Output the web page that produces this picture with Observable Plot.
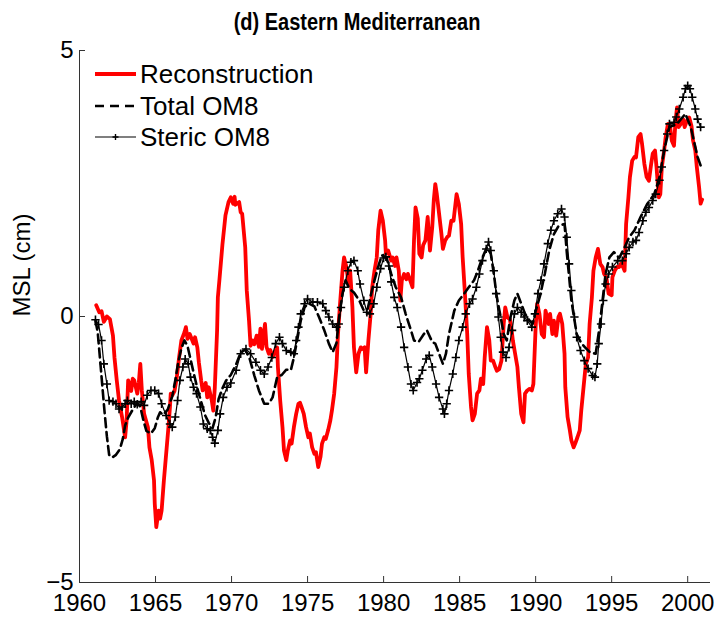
<!DOCTYPE html>
<html><head><meta charset="utf-8">
<script src="https://cdn.jsdelivr.net/npm/d3@7"></script>
<script src="https://cdn.jsdelivr.net/npm/@observablehq/plot@0.6"></script>
<style>body{margin:0;background:#fff}</style>
</head><body><div id="chart"></div>
<script>
const title = "(d) Eastern Mediterranean";
const yLabel = "MSL (cm)";
const seriesNames = ["Reconstruction", "Total OM8", "Steric OM8"];
const seriesColors = ["#ff0000", "#000000", "#000000"];
const xTicks = [1960, 1965, 1970, 1975, 1980, 1985, 1990, 1995, 2000];
const yTicks = [-5, 0, 5];
const xDomain = [1960, 2001.5];
const yDomain = [-5, 5];

const reconstruction = [
[1961.1,0.21],[1961.3,0.08],[1961.45,0.1],[1961.6,-0.1],[1961.8,0.0],[1962.0,-0.05],[1962.2,-0.36],[1962.3,-0.77],[1962.45,-1.2],[1962.6,-1.58],[1962.8,-1.89],[1963.0,-2.27],[1963.1,-1.95],[1963.2,-1.2],[1963.4,-1.4],[1963.5,-1.17],[1963.6,-1.2],[1963.8,-1.45],[1963.9,-1.25],[1964.0,-0.89],[1964.1,-1.39],[1964.25,-1.83],[1964.5,-2.08],[1964.6,-2.46],[1964.75,-2.7],[1964.9,-3.08],[1964.95,-3.52],[1965.05,-3.96],[1965.2,-3.65],[1965.3,-3.8],[1965.4,-3.65],[1965.55,-3.08],[1965.7,-2.58],[1965.85,-2.08],[1965.95,-1.7],[1966.0,-1.45],[1966.1,-1.48],[1966.25,-1.4],[1966.4,-1.14],[1966.55,-0.77],[1966.7,-0.45],[1966.9,-0.3],[1967.0,-0.2],[1967.1,-0.42],[1967.25,-0.33],[1967.5,-0.51],[1967.6,-0.39],[1967.75,-0.58],[1967.85,-0.86],[1968.0,-1.2],[1968.1,-1.39],[1968.3,-1.25],[1968.4,-1.52],[1968.5,-1.33],[1968.7,-1.58],[1968.8,-1.77],[1968.9,-1.33],[1969.05,-0.26],[1969.1,0.36],[1969.2,0.68],[1969.4,1.35],[1969.6,1.9],[1969.8,2.15],[1969.95,2.24],[1970.1,2.12],[1970.2,2.25],[1970.25,2.1],[1970.5,2.15],[1970.6,1.96],[1970.7,1.93],[1970.9,1.3],[1971.0,0.49],[1971.15,-0.08],[1971.25,-0.55],[1971.4,-0.45],[1971.5,-0.52],[1971.65,-0.36],[1971.8,-0.57],[1971.9,-0.23],[1972.0,-0.61],[1972.2,-0.14],[1972.3,-0.57],[1972.45,-0.7],[1972.55,-0.63],[1972.7,-0.76],[1972.8,-0.7],[1973.0,-0.58],[1973.05,-0.95],[1973.2,-1.58],[1973.35,-2.08],[1973.45,-2.52],[1973.6,-2.7],[1973.7,-2.52],[1973.85,-2.33],[1973.95,-2.39],[1974.1,-2.08],[1974.25,-1.83],[1974.4,-1.64],[1974.5,-1.62],[1974.6,-1.7],[1974.75,-1.83],[1974.9,-2.08],[1975.05,-2.27],[1975.15,-2.2],[1975.3,-2.46],[1975.45,-2.58],[1975.55,-2.55],[1975.7,-2.83],[1975.85,-2.64],[1975.95,-2.39],[1976.1,-2.27],[1976.2,-2.3],[1976.35,-2.14],[1976.5,-1.95],[1976.6,-1.77],[1976.75,-1.45],[1976.9,-0.95],[1977.0,-0.33],[1977.15,0.3],[1977.3,0.86],[1977.4,1.11],[1977.55,0.93],[1977.7,0.61],[1977.8,0.86],[1977.95,0.17],[1978.05,-0.58],[1978.2,-1.05],[1978.35,-0.7],[1978.5,-0.58],[1978.6,-0.61],[1978.75,-0.58],[1978.85,-1.05],[1979.0,-0.45],[1979.15,0.05],[1979.25,0.55],[1979.4,0.86],[1979.55,1.11],[1979.65,1.62],[1979.8,1.99],[1979.95,1.8],[1980.1,1.43],[1980.15,1.18],[1980.3,1.24],[1980.5,1.05],[1980.6,1.11],[1980.75,0.95],[1980.85,1.11],[1981.0,0.86],[1981.1,0.3],[1981.2,0.68],[1981.35,0.8],[1981.5,0.7],[1981.6,0.8],[1981.75,0.68],[1981.9,0.55],[1982.0,1.43],[1982.1,2.05],[1982.25,1.84],[1982.35,1.18],[1982.5,1.11],[1982.6,1.34],[1982.75,1.43],[1982.9,1.87],[1983.05,1.24],[1983.2,1.68],[1983.3,2.18],[1983.4,2.49],[1983.5,2.3],[1983.65,1.93],[1983.8,1.56],[1983.9,1.27],[1984.05,1.43],[1984.2,1.5],[1984.3,1.52],[1984.45,1.8],[1984.6,1.8],[1984.7,2.05],[1984.8,2.3],[1984.95,2.11],[1985.1,1.74],[1985.2,1.11],[1985.35,0.43],[1985.5,-0.33],[1985.6,-1.08],[1985.75,-1.7],[1985.85,-1.95],[1986.0,-1.83],[1986.15,-1.45],[1986.3,-1.39],[1986.4,-1.17],[1986.55,-1.27],[1986.65,-0.77],[1986.8,-0.2],[1986.95,-0.45],[1987.05,-0.83],[1987.2,-0.83],[1987.35,-0.95],[1987.45,-1.02],[1987.6,-0.99],[1987.75,-0.83],[1987.9,-0.14],[1988.0,0.17],[1988.15,-0.02],[1988.3,-0.05],[1988.4,-0.2],[1988.5,-0.45],[1988.65,-0.7],[1988.8,-0.95],[1988.9,-1.33],[1989.05,-1.83],[1989.2,-1.99],[1989.3,-1.45],[1989.45,-1.39],[1989.6,-1.36],[1989.75,-1.39],[1989.85,-1.27],[1990.0,-0.2],[1990.1,0.24],[1990.25,0.05],[1990.4,-0.33],[1990.55,-0.39],[1990.65,0.11],[1990.85,-0.14],[1990.95,0.05],[1991.1,-0.33],[1991.2,-0.08],[1991.35,-0.36],[1991.5,-0.01],[1991.6,0.05],[1991.75,-0.14],[1991.9,-0.7],[1991.95,-1.33],[1992.1,-1.89],[1992.25,-2.14],[1992.35,-2.33],[1992.5,-2.46],[1992.6,-2.39],[1992.75,-2.27],[1992.9,-2.14],[1993.0,-1.77],[1993.15,-1.33],[1993.3,-0.89],[1993.45,-0.77],[1993.55,-0.14],[1993.7,0.36],[1993.8,0.86],[1993.95,1.11],[1994.1,1.27],[1994.25,0.99],[1994.4,0.93],[1994.5,0.8],[1994.65,0.74],[1994.8,0.43],[1995.0,0.4],[1995.05,0.74],[1995.2,0.86],[1995.35,0.93],[1995.5,0.93],[1995.6,0.99],[1995.75,0.93],[1995.85,0.86],[1995.95,1.74],[1996.1,2.24],[1996.2,2.62],[1996.35,2.93],[1996.5,3.0],[1996.6,2.99],[1996.75,3.37],[1996.9,3.43],[1997.0,3.24],[1997.15,2.87],[1997.3,2.62],[1997.45,2.55],[1997.6,2.87],[1997.7,3.06],[1997.85,3.12],[1997.95,2.81],[1998.1,2.24],[1998.2,2.3],[1998.3,2.81],[1998.45,3.12],[1998.55,3.37],[1998.7,3.62],[1998.85,3.56],[1998.95,3.31],[1999.1,3.21],[1999.2,3.68],[1999.3,3.93],[1999.4,3.56],[1999.55,3.62],[1999.7,3.71],[1999.8,3.56],[1999.95,3.68],[2000.1,3.74],[2000.25,3.58],[2000.35,3.31],[2000.5,3.12],[2000.6,2.81],[2000.75,2.43],[2000.85,2.12],[2000.95,2.2]
];

const totalOM8 = [
[1961.05,-0.08],[1961.2,-0.3],[1961.35,-0.8],[1961.5,-1.3],[1961.65,-1.8],[1961.8,-2.25],[1961.95,-2.6],[1962.15,-2.65],[1962.4,-2.6],[1962.65,-2.5],[1962.85,-2.3],[1963.0,-2.05],[1963.2,-1.9],[1963.5,-1.75],[1963.8,-1.62],[1964.0,-1.7],[1964.2,-1.95],[1964.4,-2.15],[1964.7,-2.2],[1964.95,-2.1],[1965.15,-1.9],[1965.3,-1.8],[1965.5,-1.85],[1965.8,-1.75],[1966.1,-1.5],[1966.3,-1.2],[1966.5,-0.85],[1966.7,-0.6],[1966.9,-0.45],[1967.1,-0.55],[1967.3,-0.8],[1967.5,-1.05],[1967.75,-1.35],[1968.0,-1.6],[1968.25,-1.85],[1968.5,-2.0],[1968.75,-2.1],[1968.95,-1.9],[1969.15,-1.55],[1969.4,-1.35],[1969.65,-1.2],[1969.95,-1.1],[1970.3,-0.9],[1970.6,-0.68],[1970.9,-0.62],[1971.2,-0.8],[1971.5,-1.11],[1971.8,-1.39],[1972.15,-1.64],[1972.45,-1.64],[1972.7,-1.52],[1973.0,-1.14],[1973.3,-1.1],[1973.6,-1.0],[1973.9,-1.01],[1974.1,-0.77],[1974.35,-0.39],[1974.55,-0.08],[1974.8,0.17],[1975.05,0.25],[1975.45,0.19],[1975.75,-0.01],[1976.1,-0.26],[1976.4,-0.51],[1976.65,-0.67],[1976.9,-0.5],[1977.1,0.05],[1977.3,0.43],[1977.5,0.68],[1977.75,0.52],[1978.05,0.45],[1978.4,0.3],[1978.7,0.11],[1978.95,0.14],[1979.15,0.39],[1979.4,0.68],[1979.7,0.99],[1979.9,1.15],[1980.2,1.1],[1980.5,0.8],[1980.8,0.55],[1981.15,0.36],[1981.45,0.05],[1981.8,-0.26],[1982.0,-0.45],[1982.3,-0.48],[1982.65,-0.33],[1982.85,-0.26],[1983.2,-0.48],[1983.4,-0.51],[1983.65,-0.7],[1983.9,-0.89],[1984.1,-0.7],[1984.3,-0.33],[1984.65,0.11],[1984.95,0.3],[1985.3,0.43],[1985.6,0.55],[1985.95,0.68],[1986.2,0.86],[1986.5,1.11],[1986.8,1.3],[1987.05,1.18],[1987.25,0.8],[1987.45,0.36],[1987.7,-0.01],[1987.9,-0.33],[1988.1,-0.45],[1988.35,-0.01],[1988.6,0.3],[1988.8,0.43],[1989.05,0.24],[1989.3,0.05],[1989.6,-0.08],[1989.8,-0.14],[1990.0,0.1],[1990.3,0.4],[1990.6,0.8],[1990.9,1.25],[1991.2,1.55],[1991.5,1.7],[1991.9,1.74],[1992.05,1.2],[1992.35,0.3],[1992.7,-0.33],[1993.0,-0.5],[1993.25,-0.58],[1993.6,-0.68],[1993.95,-0.7],[1994.2,-0.2],[1994.4,0.3],[1994.6,0.8],[1994.85,1.11],[1995.15,1.21],[1995.5,1.1],[1995.85,1.3],[1996.15,1.49],[1996.5,1.62],[1996.9,1.87],[1997.35,2.12],[1997.8,2.3],[1998.15,2.62],[1998.45,3.12],[1998.8,3.56],[1999.3,3.62],[1999.85,3.81],[2000.2,3.56],[2000.45,3.25],[2000.65,3.0],[2000.85,2.84]
];

const stericOM8 = [
[1961.05,-0.06],[1961.25,-0.15],[1961.45,-0.45],[1961.6,-0.89],[1961.8,-1.27],[1961.95,-1.58],[1962.2,-1.6],[1962.4,-1.64],[1962.6,-1.74],[1962.8,-1.7],[1963.0,-1.64],[1963.15,-1.58],[1963.4,-1.64],[1963.6,-1.6],[1963.8,-1.65],[1964.05,-1.6],[1964.25,-1.67],[1964.45,-1.48],[1964.7,-1.39],[1964.95,-1.39],[1965.2,-1.45],[1965.4,-1.64],[1965.7,-1.86],[1965.95,-2.02],[1966.1,-2.08],[1966.3,-1.89],[1966.45,-1.58],[1966.6,-1.2],[1966.8,-0.95],[1966.95,-0.8],[1967.15,-0.89],[1967.3,-1.14],[1967.5,-1.33],[1967.7,-1.45],[1967.95,-1.7],[1968.15,-2.02],[1968.4,-2.11],[1968.6,-2.14],[1968.75,-2.27],[1968.9,-2.38],[1969.1,-2.14],[1969.25,-1.83],[1969.45,-1.52],[1969.7,-1.33],[1969.95,-1.25],[1970.3,-1.01],[1970.6,-0.7],[1970.95,-0.61],[1971.25,-0.7],[1971.6,-0.86],[1971.9,-1.01],[1972.15,-1.08],[1972.4,-0.95],[1972.65,-0.77],[1972.9,-0.51],[1973.15,-0.39],[1973.35,-0.51],[1973.6,-0.64],[1973.9,-0.67],[1974.1,-0.7],[1974.25,-0.45],[1974.4,-0.2],[1974.55,0.05],[1974.8,0.24],[1975.0,0.33],[1975.35,0.27],[1975.65,0.27],[1976.0,0.24],[1976.2,0.11],[1976.4,-0.01],[1976.65,-0.14],[1976.9,-0.2],[1977.05,-0.14],[1977.2,0.17],[1977.4,0.55],[1977.65,0.86],[1977.85,1.02],[1978.05,1.05],[1978.3,0.86],[1978.45,0.61],[1978.7,0.3],[1978.9,0.08],[1979.1,0.05],[1979.35,0.24],[1979.55,0.55],[1979.8,0.9],[1980.0,1.1],[1980.15,1.12],[1980.35,0.95],[1980.5,0.65],[1980.7,0.36],[1980.9,0.17],[1981.15,-0.2],[1981.35,-0.58],[1981.6,-0.95],[1981.8,-1.27],[1981.95,-1.39],[1982.2,-1.24],[1982.35,-1.17],[1982.55,-1.01],[1982.8,-0.8],[1983.0,-0.73],[1983.2,-0.95],[1983.45,-1.27],[1983.65,-1.52],[1983.9,-1.74],[1984.0,-1.83],[1984.15,-1.64],[1984.3,-1.39],[1984.55,-1.08],[1984.75,-0.77],[1984.95,-0.45],[1985.2,-0.2],[1985.4,0.05],[1985.65,0.24],[1985.85,0.33],[1986.1,0.55],[1986.3,0.8],[1986.5,1.05],[1986.75,1.27],[1986.9,1.4],[1987.05,1.24],[1987.25,0.86],[1987.4,0.43],[1987.55,-0.01],[1987.7,-0.39],[1987.85,-0.67],[1988.05,-0.77],[1988.25,-0.58],[1988.45,-0.26],[1988.6,0.05],[1988.8,0.17],[1989.05,0.08],[1989.25,-0.01],[1989.45,-0.08],[1989.75,-0.2],[1989.95,0.05],[1990.15,0.43],[1990.35,0.68],[1990.55,0.99],[1990.8,1.37],[1991.0,1.62],[1991.2,1.8],[1991.45,1.93],[1991.7,2.02],[1991.9,1.87],[1992.05,1.49],[1992.2,0.99],[1992.35,0.49],[1992.55,-0.01],[1992.7,-0.39],[1992.95,-0.64],[1993.2,-0.83],[1993.45,-0.98],[1993.75,-1.11],[1993.9,-1.14],[1994.05,-0.89],[1994.15,-0.51],[1994.3,-0.14],[1994.45,0.3],[1994.6,0.61],[1994.8,0.8],[1995.05,0.93],[1995.4,1.05],[1995.7,1.05],[1995.95,1.18],[1996.15,1.3],[1996.4,1.4],[1996.6,1.43],[1996.8,1.58],[1997.05,1.8],[1997.25,1.96],[1997.45,2.05],[1997.7,2.18],[1997.9,2.3],[1998.15,2.56],[1998.3,2.81],[1998.45,3.12],[1998.65,3.43],[1998.8,3.62],[1999.1,3.65],[1999.25,3.75],[1999.45,3.9],[1999.7,4.12],[1999.85,4.28],[2000.0,4.34],[2000.15,4.28],[2000.3,4.12],[2000.5,3.9],[2000.65,3.71],[2000.85,3.56]
];

const W = 714, H = 617, mL = 79, mR = 4, mT = 50, mB = 35;
const fw = W - mL - mR, fh = H - mT - mB;
const font = "'Liberation Sans', Arial, sans-serif";
const axisColor = "#333";
const fmtY = d => d < 0 ? "\u2212" + Math.abs(d) : String(d);

const chart = Plot.plot({
  width: W, height: H,
  marginLeft: mL, marginRight: mR, marginTop: mT, marginBottom: mB,
  style: {fontFamily: font, background: "white", overflow: "visible"},
  x: {domain: xDomain},
  y: {domain: yDomain},
  marks: [
    Plot.axisX(xTicks, {tickSize: 0, tickPadding: 11, fontSize: 24, tickFormat: d => String(d), label: null, fill: "black"}),
    Plot.axisY(yTicks, {tickSize: 0, tickPadding: 6, fontSize: 24, tickFormat: fmtY, label: null, fill: "black"}),
    Plot.ruleX([xDomain[0]], {stroke: axisColor, strokeWidth: 1}),
    Plot.ruleY([yDomain[0]], {stroke: axisColor, strokeWidth: 1}),
    Plot.tickX(xTicks, {x: d => d, insetTop: fh - 6, stroke: axisColor}),
    Plot.tickY(yTicks, {y: d => d, insetRight: fw - 6, stroke: axisColor}),
    Plot.line(reconstruction, {x: d => d[0], y: d => d[1], stroke: seriesColors[0], strokeWidth: 3.8, strokeLinejoin: "round"}),
    Plot.line(totalOM8, {x: d => d[0], y: d => d[1], stroke: seriesColors[1], strokeWidth: 2.6, strokeDasharray: "9,5"}),
    Plot.line(stericOM8, {x: d => d[0], y: d => d[1], stroke: seriesColors[2], strokeWidth: 1.2}),
    Plot.dot(stericOM8, {x: d => d[0], y: d => d[1], symbol: "plus", r: 2.8, stroke: seriesColors[2], strokeWidth: 1.6, fill: "none"}),
    Plot.text([yLabel], {text: d => d, frameAnchor: "left", rotate: -90, dx: -57, fontSize: 24, fill: "black"})
  ]
});

const svg = d3.select(chart);
svg.append("text")
  .attr("transform", `translate(${W / 2},22) scale(0.87,1)`)
  .attr("text-anchor", "middle").attr("dy", "0.36em")
  .attr("font-family", font).attr("font-weight", "bold").attr("font-size", 23)
  .attr("fill", "black").text(title);

const lg = svg.append("g").attr("font-family", font).attr("font-size", 26).attr("text-anchor", "start");
const rows = [74, 106, 137];
seriesNames.forEach((name, i) => {
  const y = rows[i];
  const line = lg.append("line").attr("x1", 95).attr("x2", 136).attr("y1", y).attr("y2", y)
    .attr("stroke", seriesColors[i]);
  if (i === 0) line.attr("stroke-width", 3.8);
  if (i === 1) line.attr("stroke-width", 2.6).attr("stroke-dasharray", "9,6");
  if (i === 2) {
    line.attr("stroke-width", 1.2);
    const s = 3;
    lg.append("path").attr("d", `M${115.5 - s},${y}H${115.5 + s}M115.5,${y - s}V${y + s}`).attr("stroke", "black").attr("stroke-width", 1.4);
  }
  lg.append("text").attr("x", 140).attr("y", y).attr("dy", "0.36em").attr("fill", "black").attr("text-anchor", "start").text(name);
});

document.getElementById("chart").appendChild(chart);
</script>
</body></html>
